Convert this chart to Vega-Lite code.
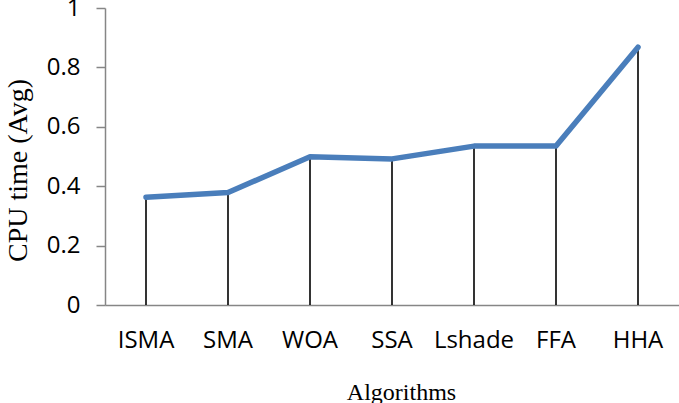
{
  "$schema": "https://vega.github.io/schema/vega-lite/v6.json",
  "width": 574,
  "height": 297,
  "autosize": {"type": "none"},
  "padding": {"left": 105, "top": 8, "right": 0, "bottom": 98},
  "background": "white",
  "config": {"view": {"stroke": null}},
  "data": {
    "values": [
      {"algorithm": "ISMA", "cpu": 0.363},
      {"algorithm": "SMA", "cpu": 0.379},
      {"algorithm": "WOA", "cpu": 0.499},
      {"algorithm": "SSA", "cpu": 0.492},
      {"algorithm": "Lshade", "cpu": 0.535},
      {"algorithm": "FFA", "cpu": 0.535},
      {"algorithm": "HHA", "cpu": 0.868}
    ]
  },
  "encoding": {
    "x": {
      "field": "algorithm",
      "type": "nominal",
      "sort": null,
      "scale": {"type": "band", "paddingInner": 0, "paddingOuter": 0},
      "axis": {
        "title": "Algorithms",
        "titleFont": "Liberation Serif",
        "titleFontSize": 24,
        "titleFontWeight": "normal",
        "titleColor": "black",
        "titleX": 296,
        "titleY": 87,
        "titleBaseline": "middle",
        "labelFont": "Open Sans",
        "labelFontSize": 24,
        "labelColor": "black",
        "labelAngle": 0,
        "labelPadding": 23,
        "ticks": false,
        "domainColor": "#868686",
        "domainWidth": 1.5
      }
    },
    "y": {
      "field": "cpu",
      "type": "quantitative",
      "scale": {"domain": [0, 1], "nice": false},
      "axis": {
        "title": "CPU time (Avg)",
        "titleFont": "Liberation Serif",
        "titleFontSize": 28,
        "titleFontWeight": "normal",
        "titleColor": "black",
        "titleX": -87,
        "titleY": 162,
        "titleAngle": -90,
        "titleAlign": "center",
        "titleBaseline": "middle",
        "values": [0, 0.2, 0.4, 0.6, 0.8, 1],
        "format": "~g",
        "labelFont": "Open Sans",
        "labelFontSize": 24,
        "labelColor": "black",
        "labelPadding": 16,
        "tickSize": 9,
        "tickColor": "#868686",
        "tickWidth": 1.5,
        "domainColor": "#868686",
        "domainWidth": 1.5,
        "grid": false
      }
    }
  },
  "layer": [
    {
      "mark": {"type": "rule", "color": "black", "strokeWidth": 1.6},
      "encoding": {
        "y2": {"datum": 0}
      }
    },
    {
      "mark": {"type": "line", "color": "#4a7ebb", "strokeWidth": 5.5, "strokeCap": "round", "strokeJoin": "round"},
      "encoding": {}
    }
  ]
}
